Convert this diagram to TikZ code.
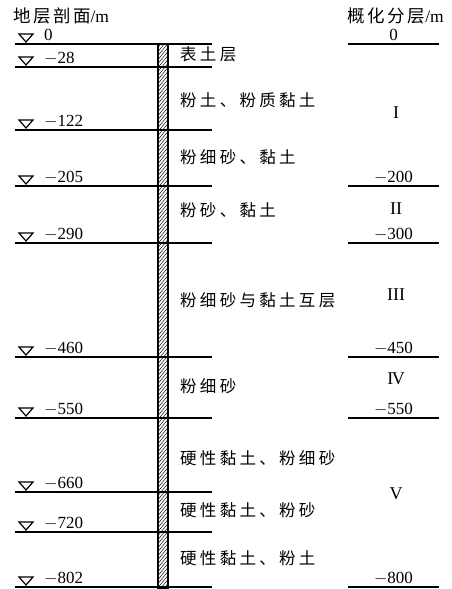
\documentclass[tikz,border=0pt]{standalone}
\usepackage{fontspec}
\setmainfont{Liberation Serif}
\newfontfamily\cjk{Noto Sans CJK SC}[LetterSpace=20]
\newfontfamily\cjkh{Noto Sans CJK SC}[LetterSpace=14]
\begin{document}
\begin{tikzpicture}[x=1pt,y=-1pt,
  lay/.style={line width=1.6pt},
  num/.style={font=\fontsize{17}{17}\selectfont, inner sep=0pt},
  cn/.style={font=\cjk\fontsize{16.5}{16.5}\selectfont, inner sep=0pt, anchor=west},
  hd/.style={font=\cjkh\fontsize{17.5}{17.5}\selectfont, inner sep=0pt},
  rom/.style={font=\fontsize{18}{18}\selectfont, inner sep=0pt},
  tri/.style={line width=1.2pt, line join=miter}]
\useasboundingbox (0,0) rectangle (451,589);
% headings
\node[hd, anchor=west] (hl) at (13,16) {地层剖面\fontspec{Liberation Serif}/m};
\node[hd, anchor=east] (hr) at (444,16) {概化分层\fontspec{Liberation Serif}/m};
% well column
\coordinate (ct) at (158,44);
\coordinate (cb) at (168,589);
\begin{scope}
\clip (ct) rectangle (cb);
\foreach \k in {0,...,150} \draw[line width=0.45pt] (156,46+4*\k) -- ++(14,-17);
\end{scope}
\draw[line width=1.2pt] (ct) rectangle (cb);
% left layers
\foreach \y/\t [count=\i] in {44/0,67/$-$28,130/$-$122,186/$-$205,243/$-$290,357/$-$460,418/$-$550,492/$-$660,532/$-$720,587/$-$802}{
  \draw[lay] (15,\y) -- (212,\y);
  \draw[tri] (19,\y-10) -- (33,\y-10) -- (26,\y-2) -- cycle;
  \node[num, anchor=base west] (d\i) at (44,\y-4) {\t};
}
% right layers
\foreach \y/\t [count=\i] in {44/0,186/$-$200,243/$-$300,357/$-$450,418/$-$550,587/$-$800}{
  \draw[lay] (348,\y) -- (439,\y);
  \node[num, anchor=base] (r\i) at (393.5,\y-4) {\t};
}
% soil labels
\node[cn] (s1) at (180,54) {表土层};
\node[cn] (s2) at (180,100) {粉土、粉质黏土};
\node[cn] (s3) at (180,157) {粉细砂、黏土};
\node[cn] (s4) at (180,210) {粉砂、黏土};
\node[cn] (s5) at (180,300) {粉细砂与黏土互层};
\node[cn] (s6) at (180,386) {粉细砂};
\node[cn] (s7) at (180,458) {硬性黏土、粉细砂};
\node[cn] (s8) at (180,510) {硬性黏土、粉砂};
\node[cn] (s9) at (180,558) {硬性黏土、粉土};
% roman numerals
\node[rom] (g1) at (396,113) {I};
\node[rom] (g2) at (396,209) {II};
\node[rom] (g3) at (396,295) {III};
\node[rom] (g4) at (396,379) {I\kern-1.5ptV};
\node[rom] (g5) at (396,494) {V};
\end{tikzpicture}
\end{document}
